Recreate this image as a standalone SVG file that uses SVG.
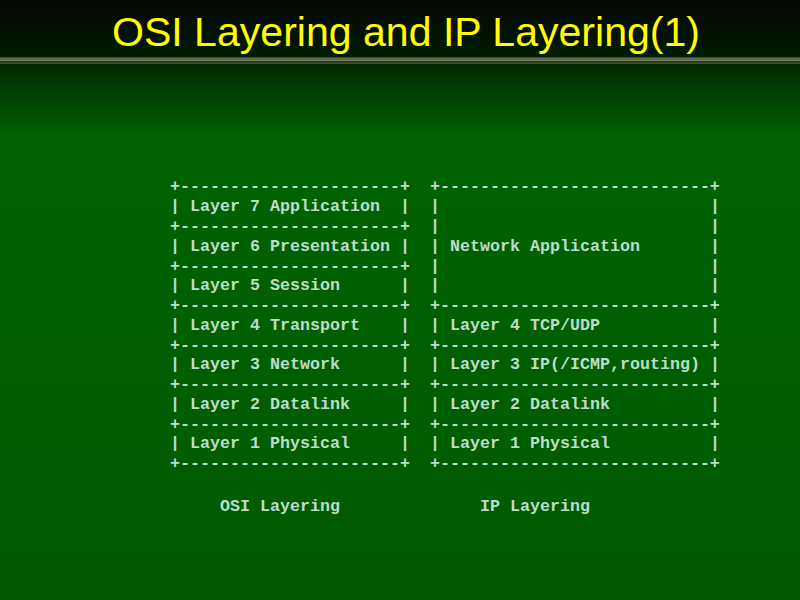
<svg xmlns="http://www.w3.org/2000/svg" width="800" height="600" viewBox="0 0 800 600">
<defs>
<linearGradient id="topbg" x1="0" y1="0" x2="0" y2="1">
<stop offset="0" stop-color="#060606"/>
<stop offset="1" stop-color="#001c00"/>
</linearGradient>
<linearGradient id="mainbg" gradientUnits="userSpaceOnUse" x1="0" y1="63" x2="0" y2="600">
<stop offset="0" stop-color="#002a00"/>
<stop offset="0.14" stop-color="#006200"/>
<stop offset="0.4" stop-color="#006000"/>
<stop offset="1" stop-color="#005a00"/>
</linearGradient>
<style>
.t{font-family:"Liberation Mono","Courier New",monospace;font-size:16.667px;font-weight:bold;fill:#bcdcc8;}
.title{font-family:"Liberation Sans",Arial,sans-serif;font-size:40px;fill:#ffff00;}
</style>
</defs>
<rect x="0" y="0" width="800" height="58" fill="url(#topbg)"/>
<rect x="0" y="57.3" width="800" height="3.4" fill="#5c6c46"/>
<rect x="0" y="60.7" width="800" height="2.6" fill="#2e3c1c"/>
<rect x="0" y="63.3" width="800" height="536.7" fill="url(#mainbg)"/>
<text class="title" x="112" y="46" textLength="588" lengthAdjust="spacingAndGlyphs">OSI Layering and IP Layering(1)</text>
<g id="borders" class="t">
<text x="170" y="191.4">+----------------------+</text>
<text x="170" y="230.9">+----------------------+</text>
<text x="170" y="270.5">+----------------------+</text>
<text x="170" y="310.0">+----------------------+</text>
<text x="170" y="349.6">+----------------------+</text>
<text x="170" y="389.1">+----------------------+</text>
<text x="170" y="428.6">+----------------------+</text>
<text x="170" y="468.2">+----------------------+</text>
<text x="430" y="191.4">+---------------------------+</text>
<text x="430" y="310.0">+---------------------------+</text>
<text x="430" y="349.6">+---------------------------+</text>
<text x="430" y="389.1">+---------------------------+</text>
<text x="430" y="428.6">+---------------------------+</text>
<text x="430" y="468.2">+---------------------------+</text>
</g>
<g id="osi-layer7" class="t"><text x="170" y="211.2">|</text><text x="190" y="211.2">Layer 7 Application</text><text x="400" y="211.2">|</text></g>
<g id="osi-layer6" class="t"><text x="170" y="250.7">|</text><text x="190" y="250.7">Layer 6 Presentation</text><text x="400" y="250.7">|</text></g>
<g id="osi-layer5" class="t"><text x="170" y="290.3">|</text><text x="190" y="290.3">Layer 5 Session</text><text x="400" y="290.3">|</text></g>
<g id="osi-layer4" class="t"><text x="170" y="329.8">|</text><text x="190" y="329.8">Layer 4 Transport</text><text x="400" y="329.8">|</text></g>
<g id="osi-layer3" class="t"><text x="170" y="369.3">|</text><text x="190" y="369.3">Layer 3 Network</text><text x="400" y="369.3">|</text></g>
<g id="osi-layer2" class="t"><text x="170" y="408.9">|</text><text x="190" y="408.9">Layer 2 Datalink</text><text x="400" y="408.9">|</text></g>
<g id="osi-layer1" class="t"><text x="170" y="448.4">|</text><text x="190" y="448.4">Layer 1 Physical</text><text x="400" y="448.4">|</text></g>
<g id="ip-application" class="t">
<text x="430" y="211.2">|</text><text x="710" y="211.2">|</text>
<text x="430" y="230.9">|</text><text x="710" y="230.9">|</text>
<text x="430" y="250.7">|</text><text x="450" y="250.7">Network Application</text><text x="710" y="250.7">|</text>
<text x="430" y="270.5">|</text><text x="710" y="270.5">|</text>
<text x="430" y="290.3">|</text><text x="710" y="290.3">|</text>
</g>
<g id="ip-layer4" class="t"><text x="430" y="329.8">|</text><text x="450" y="329.8">Layer 4 TCP/UDP</text><text x="710" y="329.8">|</text></g>
<g id="ip-layer3" class="t"><text x="430" y="369.3">|</text><text x="450" y="369.3">Layer 3 IP(/ICMP,routing)</text><text x="710" y="369.3">|</text></g>
<g id="ip-layer2" class="t"><text x="430" y="408.9">|</text><text x="450" y="408.9">Layer 2 Datalink</text><text x="710" y="408.9">|</text></g>
<g id="ip-layer1" class="t"><text x="430" y="448.4">|</text><text x="450" y="448.4">Layer 1 Physical</text><text x="710" y="448.4">|</text></g>
<g id="captions" class="t">
<text x="220" y="511">OSI Layering</text>
<text x="480" y="511">IP Layering</text>
</g>
</svg>
